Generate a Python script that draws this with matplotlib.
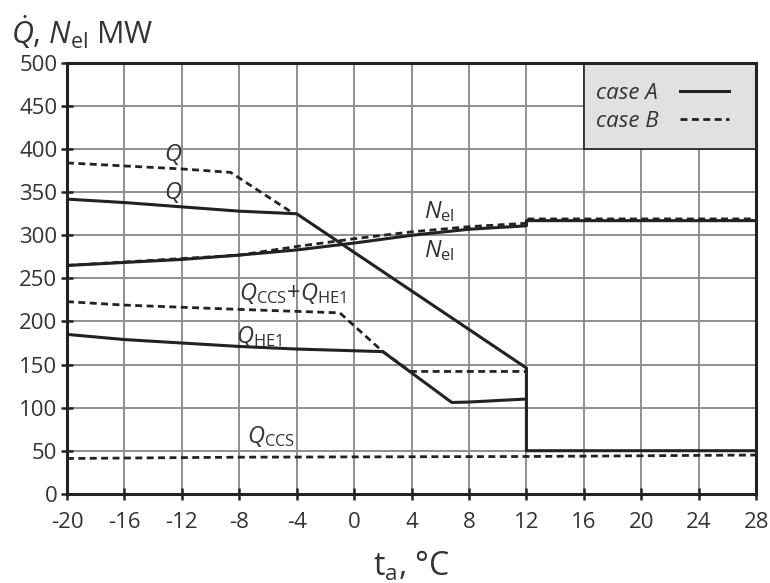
import matplotlib.pyplot as plt
from matplotlib.patches import Rectangle
from matplotlib.lines import Line2D

plt.rcParams['font.family'] = ['Open Sans', 'DejaVu Sans']
plt.rcParams['mathtext.fontset'] = 'custom'
plt.rcParams['mathtext.rm'] = 'Open Sans'
plt.rcParams['mathtext.it'] = 'Open Sans:italic'

# case A (solid)
q_a_t = [-20, -16, -8, -4, 12, 12, 28]
q_a_v = [342, 338, 328, 325, 146, 50, 50]
nel_a_t = [-20, -12, -8, -4, 0, 4, 8, 12, 12, 28]
nel_a_v = [265, 272, 277, 283, 291, 300, 307, 311, 317, 317]
qhe1_a_t = [-20, -16, -8, -4, 2, 6.8, 8, 12]
qhe1_a_v = [185, 179, 171, 168, 165, 106, 106.5, 110]

# case B (dashed)
q_b_t = [-20, -12, -8.6, -4.2]
q_b_v = [384, 377, 373, 325]
nel_b_t = [-20, -8, -4, 0, 4, 8, 12, 12, 28]
nel_b_v = [265, 277, 287, 296, 304, 310, 314, 319, 319]
qsum_b_t = [-20, -16, -8, -1, 2, 3.9, 12]
qsum_b_v = [223, 219, 214, 210, 165, 142, 142]
qccs_b_t = [-20, -8, 4, 12, 28]
qccs_b_v = [41, 42.5, 43, 43.3, 45]

xticks = list(range(-20, 29, 4))
yticks = list(range(0, 501, 50))

txt = '#333333'
lc = '#222222'

fig = plt.figure(figsize=(7.7, 5.83), dpi=100)
ax = fig.add_axes([0.087, 0.153, 0.895, 0.739])

ax.set_xlim(-20, 28)
ax.set_ylim(0, 500)
ax.set_xticks(xticks)
ax.set_yticks(yticks)
ax.set_xticklabels([str(v) for v in xticks])
ax.grid(True, color='#8f8f8f', linewidth=1.4)
ax.set_axisbelow(True)
for s in ax.spines.values():
    s.set_linewidth(2.2)
    s.set_color(lc)
ax.tick_params(direction='inout', length=8, width=1.8, colors=lc,
               labelsize=16, labelcolor=txt, pad=3)
ax.tick_params(axis='x', pad=9)

# legend box
ax.add_patch(Rectangle((16, 400), 12, 100, facecolor='#e1e1e3',
                       edgecolor=lc, linewidth=1.2, zorder=2))

sol = dict(color=lc, linewidth=2.2, zorder=4, solid_joinstyle='round')
dsh = dict(color=lc, linewidth=2.0, linestyle=(0, (2.5, 1.6)), zorder=4)

ax.plot(q_a_t, q_a_v, **sol)
ax.plot(nel_a_t, nel_a_v, **sol)
ax.plot(qhe1_a_t, qhe1_a_v, **sol)
ax.plot(q_b_t, q_b_v, **dsh)
ax.plot(nel_b_t, nel_b_v, **dsh)
ax.plot(qsum_b_t, qsum_b_v, **dsh)
ax.plot(qccs_b_t, qccs_b_v, **dsh)

lab = dict(color=txt, fontsize=17, ha='center', va='center', zorder=5)
ax.text(-12.6, 394, r'$\mathit{Q}$', **lab)
ax.text(-12.6, 350, r'$\mathit{Q}$', **lab)
ax.text(5.9, 327, r'$\mathit{N}_{\mathrm{el}}$', **lab)
ax.text(5.9, 282, r'$\mathit{N}_{\mathrm{el}}$', **lab)
ax.text(-4.3, 233, r'$\mathit{Q}_{\mathrm{CCS}}\mathrm{+}\mathit{Q}_{\mathrm{HE1}}$', **lab)
ax.text(-6.6, 182, r'$\mathit{Q}_{\mathrm{HE1}}$', **lab)
ax.text(-5.8, 66, r'$\mathit{Q}_{\mathrm{CCS}}$', **lab)

handles = [Line2D([], [], **{k: v for k, v in sol.items() if k != 'zorder'}),
           Line2D([], [], **{k: v for k, v in dsh.items() if k != 'zorder'})]
leg = ax.legend(handles, ['case A', 'case B'], loc='upper right',
                bbox_to_anchor=(0.99, 1.0), frameon=False, markerfirst=False,
                prop={'style': 'italic', 'size': 16}, handlelength=2.2,
                labelspacing=0.3, handletextpad=1.0)
for t in leg.get_texts():
    t.set_color(txt)
leg.set_zorder(6)

ax.set_xlabel(r't$_{\mathrm{a}}$, °C', fontsize=23, color=txt, labelpad=12)
fig.text(0.014, 0.945, r'$\dot{\mathit{Q}}$, $\mathit{N}_{\mathrm{el}}$ MW', fontsize=22,
         color=txt, va='center')

fig.savefig('out.png', dpi=100)
